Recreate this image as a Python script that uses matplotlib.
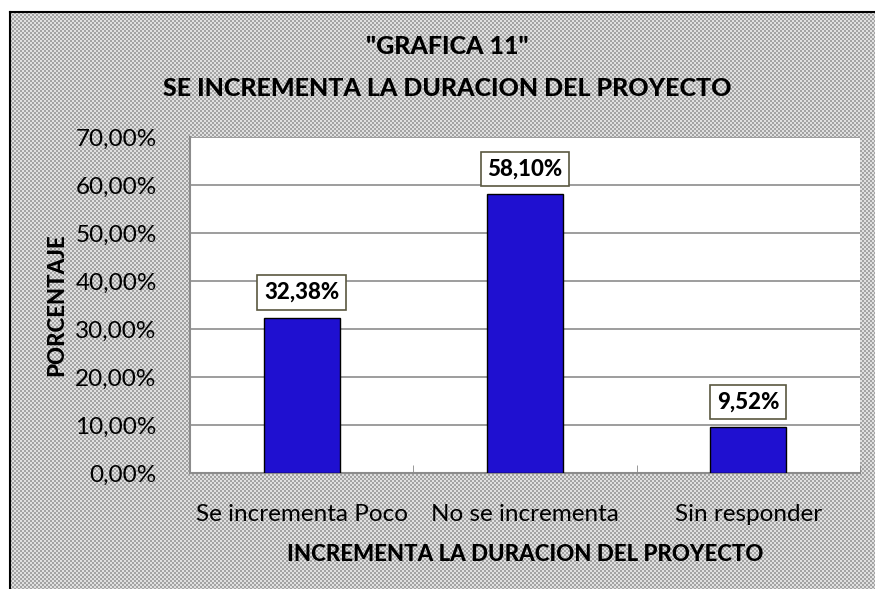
import matplotlib.pyplot as plt
import numpy as np

categories = ["Se incrementa Poco", "No se incrementa", "Sin responder"]
values = [32.38, 58.10, 9.52]
value_labels = ["32,38%", "58,10%", "9,52%"]
y_ticks = [0, 10, 20, 30, 40, 50, 60, 70]
y_tick_labels = ["0,00%", "10,00%", "20,00%", "30,00%", "40,00%", "50,00%", "60,00%", "70,00%"]

W, H = 875, 589
plt.rcParams['font.family'] = ['Lato', 'DejaVu Sans']
BOLD = "black"

fig = plt.figure(figsize=(W / 100, H / 100), dpi=100)
fig.patch.set_facecolor("white")

# checker pattern background inside the frame
ph, pw = H - 12, W - 10
yy, xx = np.mgrid[0:ph, 0:pw]
checker = ((xx // 2 + yy // 2) % 2).astype(float)
pattern = np.where(checker == 1, 0.88, 0.64)
rgb = np.dstack([pattern, pattern, pattern])
fig.figimage(rgb, xo=10, yo=0, origin="upper", zorder=-5)

# frame lines
fig.add_artist(plt.Line2D([10 / W, 10 / W], [0, (H - 12) / H], color="black", lw=1.5))
fig.add_artist(plt.Line2D([10 / W, 1], [(H - 12) / H, (H - 12) / H], color="black", lw=1.5))

ax = fig.add_axes([190 / W, (H - 473) / H, 670 / W, (473 - 137) / H])
ax.set_zorder(2)
ax.set_facecolor("white")

x = np.arange(len(categories))
ax.bar(x, values, width=0.34, color="#1f10d0", edgecolor="black", linewidth=1, zorder=3)

for xi, v, lab in zip(x, values, value_labels):
    ax.annotate(lab, (xi, v), xytext=(0, 18), textcoords="offset points",
                ha="center", va="center", fontsize=16, fontweight=BOLD,
                bbox=dict(boxstyle="square,pad=0.3", fc="white", ec="#5a5840", lw=1.2),
                zorder=4)

ax.set_xlim(-0.5, 2.5)
ax.set_ylim(0, 70)
ax.set_yticks(y_ticks)
ax.set_yticklabels(y_tick_labels, fontsize=17.5)
ax.set_xticks(x)
ax.set_xticklabels(categories, fontsize=17.5)
ax.set_xticks([0.5, 1.5, 2.5], minor=True)
ax.tick_params(axis="x", which="major", length=0, pad=22)
ax.tick_params(axis="x", which="minor", length=6, direction="in", color="#888888")
ax.tick_params(axis="y", length=0, pad=24)
ax.yaxis.grid(True, color="#8c8c8c", lw=1.2, zorder=1)
ax.set_axisbelow(True)

for side in ["top", "right"]:
    ax.spines[side].set_visible(False)
for side in ["left", "bottom"]:
    ax.spines[side].set_color("#8c8c8c")
    ax.spines[side].set_linewidth(1.5)

ax.set_ylabel("PORCENTAJE", fontsize=16, fontweight=BOLD, labelpad=6)
ax.set_xlabel("INCREMENTA LA DURACION DEL PROYECTO", fontsize=16, fontweight=BOLD, labelpad=14)

fig.text(447 / W, 1 - 47 / H, '"GRAFICA 11"', ha="center", va="center", fontsize=18, fontweight=BOLD)
fig.text(447 / W, 1 - 88 / H, "SE INCREMENTA LA DURACION DEL PROYECTO", ha="center", va="center",
         fontsize=18, fontweight=BOLD)

fig.savefig("out.png", dpi=100, facecolor=fig.get_facecolor())
